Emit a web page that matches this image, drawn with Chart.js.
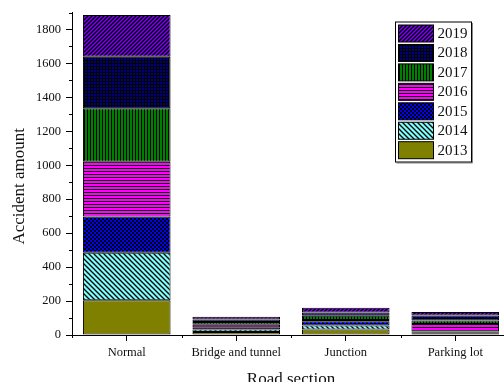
<!DOCTYPE html>
<html>
<head>
<meta charset="utf-8">
<script src="https://cdn.jsdelivr.net/npm/chart.js@4/dist/chart.umd.min.js"></script>
<style>
  html, body { margin: 0; padding: 0; background: #fff; overflow: hidden; }
  #wrap { position: relative; width: 514px; height: 390px; }
</style>
</head>
<body>
<div id="wrap"><canvas id="c"></canvas></div>
<script>
// Road sections on the x axis
const categories = ['Normal', 'Bridge and tunnel', 'Junction', 'Parking lot'];
// Years stacked from bottom (2013) to top (2019)
const years = ['2013', '2014', '2015', '2016', '2017', '2018', '2019'];
// Accident amount per road section, one array per year
const v2013 = [205, 18, 32, 8];
const v2014 = [280, 14, 24, 5];
const v2015 = [213, 14, 25, 7];
const v2016 = [323, 14, 8, 45];
const v2017 = [315, 17, 25, 20];
const v2018 = [303, 15, 18, 30];
const v2019 = [247, 15, 28, 20];
const yearValues = [v2013, v2014, v2015, v2016, v2017, v2018, v2019];
// Y axis range and labelled step
const yMax = 1900;
const yStep = 200;

const SERIF = '"Liberation Serif", "Times New Roman", serif';

// Hatch fills for each year
function makePattern(size, draw) {
  const c = document.createElement('canvas');
  c.width = size; c.height = size;
  const g = c.getContext('2d');
  draw(g, size);
  return g.createPattern(c, 'repeat');
}
const fills = [
  // 2013 olive solid
  '#808000',
  // 2014 light cyan with "\" hatch
  makePattern(5, (g, s) => {
    g.fillStyle = '#80ffff'; g.fillRect(0, 0, s, s);
    g.strokeStyle = '#000'; g.lineWidth = 1.3;
    g.beginPath();
    g.moveTo(-1, -1); g.lineTo(s + 1, s + 1);
    g.moveTo(-1, s - 1); g.lineTo(1, s + 1);
    g.moveTo(s - 1, -1); g.lineTo(s + 1, 1);
    g.stroke();
  }),
  // 2015 blue with black checks
  makePattern(4, (g, s) => {
    g.fillStyle = '#0000ff'; g.fillRect(0, 0, s, s);
    g.fillStyle = '#000';
    g.fillRect(0, 0, 2, 2); g.fillRect(2, 2, 2, 2);
  }),
  // 2016 magenta with horizontal lines
  makePattern(3, (g, s) => {
    g.fillStyle = '#ff00ff'; g.fillRect(0, 0, s, s);
    g.fillStyle = '#000'; g.fillRect(0, 0, s, 1);
  }),
  // 2017 green with vertical lines
  makePattern(3, (g, s) => {
    g.fillStyle = '#008000'; g.fillRect(0, 0, s, s);
    g.fillStyle = '#000'; g.fillRect(0, 0, 1, s);
  }),
  // 2018 navy with grid
  makePattern(3, (g, s) => {
    g.fillStyle = '#000080'; g.fillRect(0, 0, s, s);
    g.fillStyle = '#000'; g.fillRect(0, 0, s, 1); g.fillRect(0, 0, 1, s);
  }),
  // 2019 violet with "/" hatch
  makePattern(4, (g, s) => {
    g.fillStyle = '#8000ff'; g.fillRect(0, 0, s, s);
    g.strokeStyle = '#000'; g.lineWidth = 1.4;
    g.beginPath();
    g.moveTo(-1, s + 1); g.lineTo(s + 1, -1);
    g.moveTo(-1, 1); g.lineTo(1, -1);
    g.moveTo(s - 1, s + 1); g.lineTo(s + 1, s - 1);
    g.stroke();
  })
];

const datasets = years.map((y, i) => ({
  label: y,
  data: yearValues[i],
  backgroundColor: fills[i],
  borderColor: '#000',
  borderWidth: 1,
  borderSkipped: false,
  categoryPercentage: 0.8,
  barPercentage: 1.0
}));

// Minor ticks on both axes, rotated y title and the boxed legend
const decorations = {
  id: 'decorations',
  afterDraw(chart) {
    const { ctx, chartArea, scales } = chart;
    const ys = scales.y;
    ctx.save();
    ctx.strokeStyle = '#000';
    ctx.lineWidth = 1;
    ctx.beginPath();
    for (let v = yStep / 2; v <= yMax; v += yStep) {
      const py = Math.round(ys.getPixelForValue(v)) + 0.5;
      ctx.moveTo(chartArea.left - 3, py);
      ctx.lineTo(chartArea.left, py);
    }
    const w = (chartArea.right - chartArea.left) / categories.length;
    for (let k = 0; k <= categories.length; k++) {
      const px = Math.round(chartArea.left + k * w) + 0.5;
      ctx.moveTo(px, chartArea.bottom);
      ctx.lineTo(px, chartArea.bottom + 3);
    }
    ctx.stroke();

    // y axis title
    ctx.save();
    ctx.translate(24, (chartArea.top + chartArea.bottom) / 2 + 12.5);
    ctx.rotate(-Math.PI / 2);
    ctx.font = '17px ' + SERIF;
    ctx.fillStyle = '#111';
    ctx.textAlign = 'center';
    ctx.textBaseline = 'alphabetic';
    ctx.fillText('Accident amount', 0, 0);
    ctx.restore();

    // legend
    const lx = chartArea.left + 323.5, ly = chartArea.top + 9.5;
    const lw = 76, lh = 140;
    ctx.fillStyle = '#fff';
    ctx.fillRect(lx, ly, lw, lh);
    ctx.strokeStyle = '#888';
    ctx.beginPath();
    ctx.moveTo(lx + lw + 1, ly + 1); ctx.lineTo(lx + lw + 1, ly + lh + 1); ctx.lineTo(lx + 1, ly + lh + 1);
    ctx.stroke();
    ctx.strokeStyle = '#000';
    ctx.strokeRect(lx, ly, lw, lh);
    ctx.font = '15px ' + SERIF;
    ctx.textAlign = 'left';
    ctx.textBaseline = 'middle';
    for (let j = 0; j < years.length; j++) {
      const idx = years.length - 1 - j;
      const sy = ly + 3 + j * 19.45;
      ctx.fillStyle = fills[idx];
      ctx.fillRect(lx + 3, sy, 35, 17);
      ctx.strokeStyle = '#000';
      ctx.strokeRect(lx + 3, sy, 35, 17);
      ctx.fillStyle = '#111';
      ctx.fillText(years[idx], lx + 42, sy + 9);
    }
    ctx.restore();
  }
};

new Chart(document.getElementById('c'), {
  type: 'bar',
  data: { labels: categories, datasets },
  plugins: [decorations],
  options: {
    responsive: true,
    maintainAspectRatio: false,
    animation: false,
    devicePixelRatio: 1,
    layout: { padding: { left: 0, right: 4, top: 11, bottom: 0 } },
    plugins: { legend: { display: false }, tooltip: { enabled: false } },
    scales: {
      x: {
        stacked: true,
        grid: { display: true, drawOnChartArea: false, offset: false, color: '#000', tickLength: 6, tickColor: '#000' },
        border: { display: true, color: '#000', width: 1 },
        ticks: { color: '#111', padding: 4, font: { family: SERIF, size: 12.5 }, maxRotation: 0, autoSkip: false },
        title: { display: true, text: 'Road section', color: '#111', font: { family: SERIF, size: 17 }, padding: { top: 0, bottom: 0 } },
        afterFit(scale) { scale.height = 55; }
      },
      y: {
        stacked: true,
        min: 0,
        max: yMax,
        grid: {
          display: true, drawOnChartArea: false, tickLength: 6,
          tickColor: (c) => (c.tick && c.tick.value % yStep === 0 ? '#000' : 'rgba(0,0,0,0)')
        },
        border: { display: true, color: '#000', width: 1 },
        ticks: {
          stepSize: yStep / 2,
          color: '#111',
          padding: 5,
          font: { family: SERIF, size: 12.5 },
          callback: (v) => (v % yStep === 0 ? String(v) : '')
        },
        title: { display: false },
        afterFit(scale) { scale.width = 72; }
      }
    }
  }
});
</script>
</body>
</html>
